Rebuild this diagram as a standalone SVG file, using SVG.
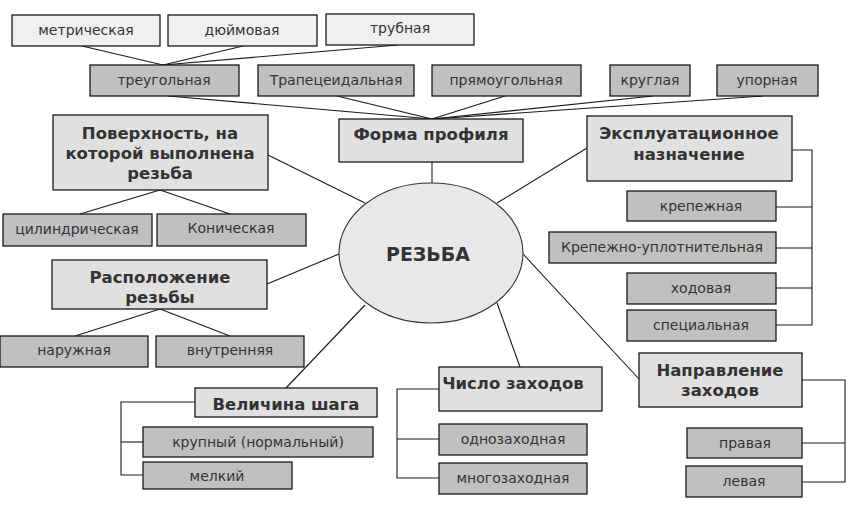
<svg xmlns="http://www.w3.org/2000/svg" width="855" height="513" viewBox="0 0 855 513">
<style>
.lt{fill:#f0f0f0;stroke:#1a1a1a;stroke-width:1.3}
.dk{fill:#c0c0c0;stroke:#1a1a1a;stroke-width:1.3}
.md{fill:#e0e0e0;stroke:#1a1a1a;stroke-width:1.3}
.t{font-family:"DejaVu Sans",Verdana,sans-serif;font-size:14px;fill:#333;text-anchor:middle;dominant-baseline:central}
.b{font-family:"DejaVu Sans",Verdana,sans-serif;font-size:16.5px;font-weight:bold;fill:#333;text-anchor:middle;dominant-baseline:central}
.c line,.c polyline{stroke:#1a1a1a;stroke-width:1.1;fill:none}
</style>
<rect width="855" height="513" fill="#fff"/>
<g class="c" id="connectors">
<line x1="82" y1="46" x2="163" y2="65"/>
<line x1="243" y1="46" x2="163" y2="65"/>
<line x1="398" y1="45" x2="163" y2="65"/>
<line x1="168" y1="96" x2="432" y2="119"/>
<line x1="337" y1="96" x2="432" y2="119"/>
<line x1="505" y1="96" x2="432" y2="119"/>
<line x1="653" y1="96" x2="432" y2="119"/>
<line x1="763" y1="96" x2="432" y2="119"/>
<line x1="432" y1="162" x2="432" y2="183"/>
<line x1="268" y1="155" x2="365" y2="203"/>
<line x1="160" y1="190" x2="80" y2="214"/>
<line x1="160" y1="190" x2="230" y2="214"/>
<line x1="267" y1="284" x2="339" y2="254"/>
<line x1="160" y1="309" x2="75" y2="336"/>
<line x1="160" y1="309" x2="230" y2="336"/>
<line x1="365" y1="305" x2="286" y2="388"/>
<polyline points="195,402 121,402 121,475 143,475"/>
<line x1="121" y1="442" x2="143" y2="442"/>
<line x1="497" y1="303" x2="520" y2="367"/>
<polyline points="439,389 397,389 397,478 439,478"/>
<line x1="397" y1="439" x2="439" y2="439"/>
<line x1="523" y1="254" x2="639" y2="379"/>
<polyline points="802,380 845,380 845,482 802,482"/>
<line x1="802" y1="443" x2="845" y2="443"/>
<line x1="587" y1="148" x2="497" y2="203"/>
<polyline points="792,150 812,150 812,325 776,325"/>
<line x1="776" y1="207" x2="812" y2="207"/>
<line x1="776" y1="248" x2="812" y2="248"/>
<line x1="776" y1="288" x2="812" y2="288"/>
</g>
<g id="metric"><rect class="lt" x="12" y="15" width="148" height="31"/><text class="t" x="86" y="30">метрическая</text></g>
<g id="inch"><rect class="lt" x="168" y="15" width="149" height="31"/><text class="t" x="242" y="30">дюймовая</text></g>
<g id="pipe"><rect class="lt" x="326" y="14" width="148" height="31"/><text class="t" x="400" y="28">трубная</text></g>
<g id="tri"><rect class="dk" x="90" y="65" width="149" height="31"/><text class="t" x="164" y="80">треугольная</text></g>
<g id="trap"><rect class="dk" x="258" y="65" width="156" height="31"/><text class="t" x="336" y="80">Трапецеидальная</text></g>
<g id="rect"><rect class="dk" x="432" y="65" width="149" height="31"/><text class="t" x="506" y="80">прямоугольная</text></g>
<g id="round"><rect class="dk" x="610" y="65" width="80" height="31"/><text class="t" x="650" y="80">круглая</text></g>
<g id="thrust"><rect class="dk" x="717" y="65" width="101" height="31"/><text class="t" x="767" y="80">упорная</text></g>
<g id="form"><rect class="md" x="339" y="119" width="184" height="43"/><text class="b" x="431" y="134">Форма профиля</text></g>
<g id="surface"><rect class="md" x="53" y="115" width="215" height="75"/><text class="b" x="160" y="133">Поверхность, на</text><text class="b" x="160" y="153">которой выполнена</text><text class="b" x="160" y="173">резьба</text></g>
<g id="cyl"><rect class="dk" x="3" y="214" width="149" height="32"/><text class="t" x="77" y="229">цилиндрическая</text></g>
<g id="con"><rect class="dk" x="157" y="214" width="149" height="32"/><text class="t" x="231" y="228">Коническая</text></g>
<g id="purpose"><rect class="md" x="587" y="116" width="205" height="65"/><text class="b" x="689" y="133">Эксплуатационное</text><text class="b" x="689" y="154">назначение</text></g>
<g id="fast"><rect class="dk" x="627" y="191" width="149" height="30"/><text class="t" x="701" y="206">крепежная</text></g>
<g id="seal"><rect class="dk" x="549" y="232" width="227" height="31"/><text class="t" x="662" y="247">Крепежно-уплотнительная</text></g>
<g id="run"><rect class="dk" x="627" y="273" width="149" height="31"/><text class="t" x="701" y="288">ходовая</text></g>
<g id="spec"><rect class="dk" x="627" y="310" width="149" height="31"/><text class="t" x="701" y="325">специальная</text></g>
<g id="center"><ellipse cx="431" cy="253" rx="92" ry="70" fill="#e8e8e8" stroke="#333" stroke-width="1.1"/><text class="b" x="428" y="254" style="font-size:19px">РЕЗЬБА</text></g>
<g id="location"><rect class="md" x="52" y="260" width="215" height="49"/><text class="b" x="160" y="277">Расположение</text><text class="b" x="160" y="297">резьбы</text></g>
<g id="ext"><rect class="dk" x="0" y="336" width="148" height="31"/><text class="t" x="74" y="350">наружная</text></g>
<g id="int"><rect class="dk" x="156" y="336" width="148" height="31"/><text class="t" x="230" y="350">внутренняя</text></g>
<g id="pitch"><rect class="md" x="195" y="388" width="182" height="29"/><text class="b" x="286" y="404">Величина шага</text></g>
<g id="coarse"><rect class="dk" x="143" y="427" width="230" height="30"/><text class="t" x="258" y="442">крупный (нормальный)</text></g>
<g id="fine"><rect class="dk" x="143" y="462" width="149" height="27"/><text class="t" x="217" y="476">мелкий</text></g>
<g id="starts"><rect class="md" x="439" y="367" width="163" height="44"/><text class="b" x="513" y="383">Число заходов</text></g>
<g id="single"><rect class="dk" x="439" y="424" width="148" height="31"/><text class="t" x="513" y="439">однозаходная</text></g>
<g id="multi"><rect class="dk" x="439" y="463" width="148" height="31"/><text class="t" x="513" y="478">многозаходная</text></g>
<g id="dir"><rect class="md" x="639" y="353" width="163" height="54"/><text class="b" x="720" y="370">Направление</text><text class="b" x="720" y="390">заходов</text></g>
<g id="right"><rect class="dk" x="687" y="428" width="115" height="30"/><text class="t" x="745" y="443">правая</text></g>
<g id="left"><rect class="dk" x="686" y="466" width="116" height="31"/><text class="t" x="744" y="481">левая</text></g>
</svg>
